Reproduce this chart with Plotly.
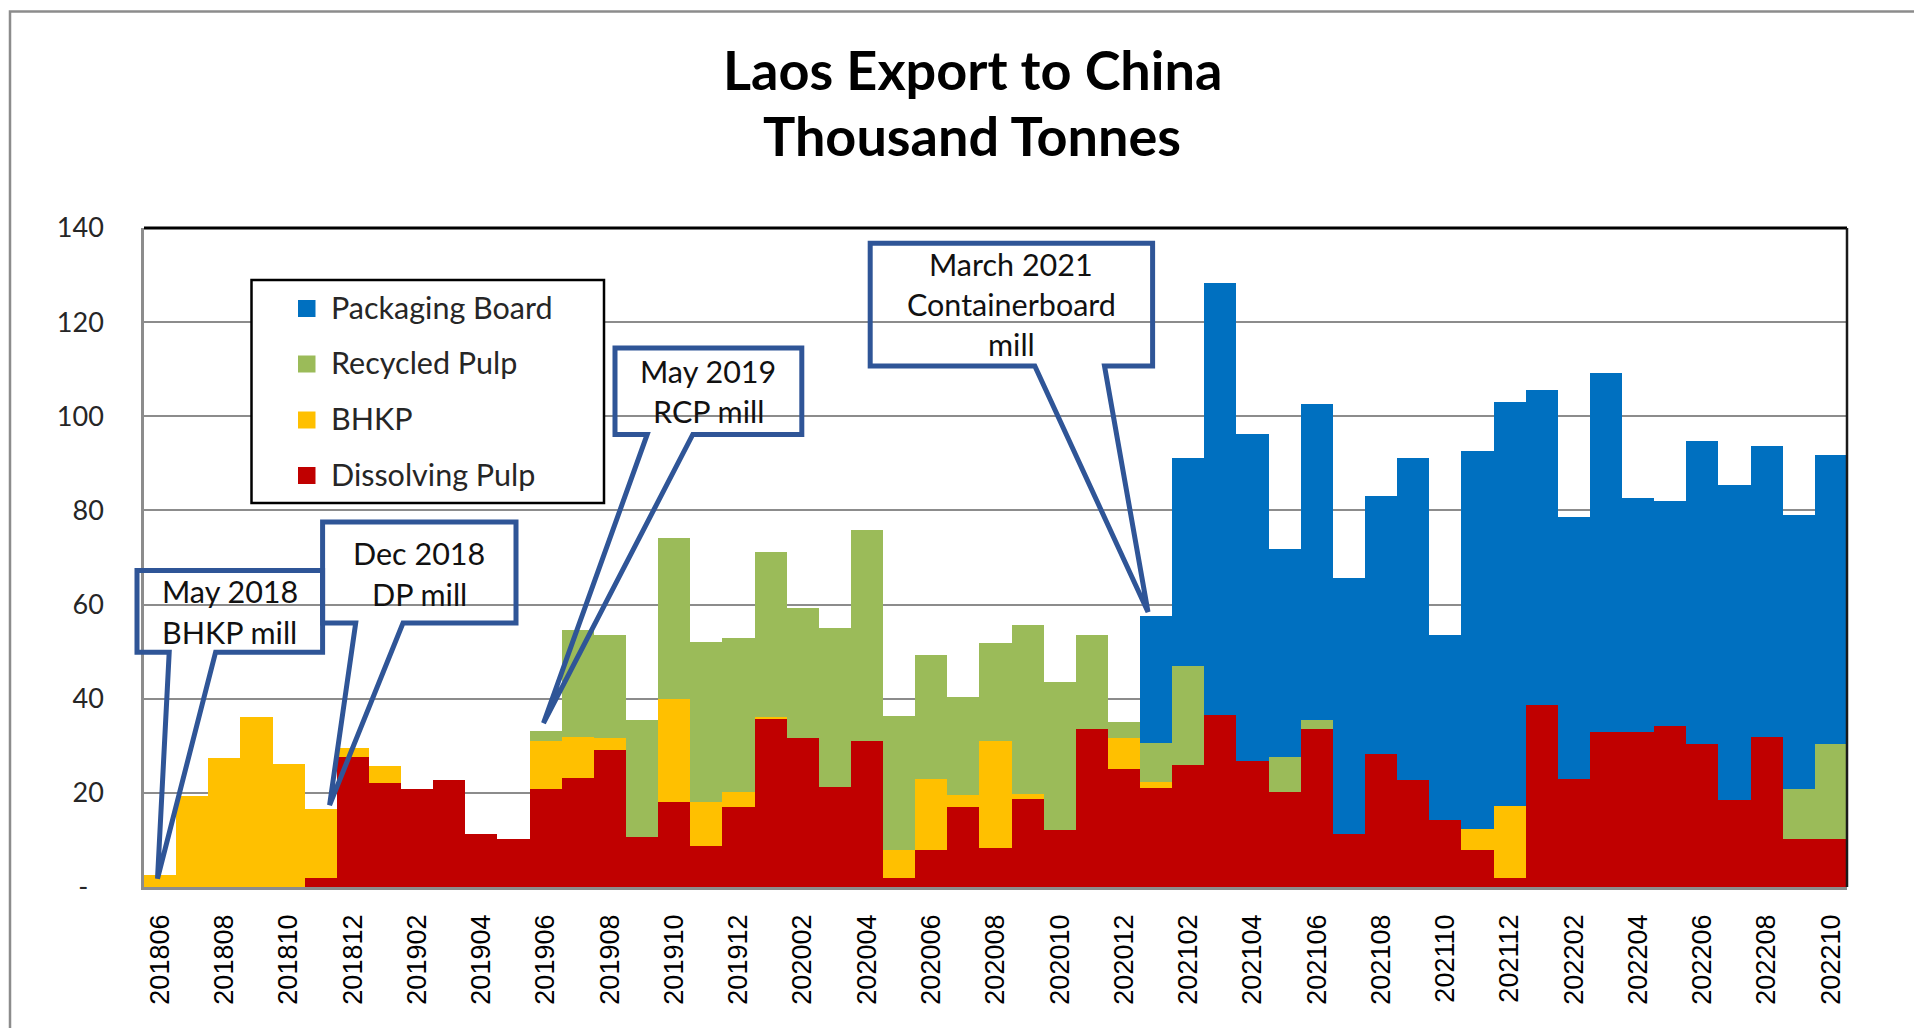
import plotly.graph_objects as go

# ---------------- data ----------------
months = ["201806", "201807", "201808", "201809", "201810", "201811", "201812",
          "201901", "201902", "201903", "201904", "201905", "201906", "201907", "201908",
          "201909", "201910", "201911", "201912",
          "202001", "202002", "202003", "202004", "202005", "202006", "202007", "202008",
          "202009", "202010", "202011", "202012",
          "202101", "202102", "202103", "202104", "202105", "202106", "202107", "202108",
          "202109", "202110", "202111", "202112",
          "202201", "202202", "202203", "202204", "202205", "202206", "202207", "202208",
          "202209", "202210"]

dissolving_pulp = [0, 0, 0, 0, 0, 1.9, 27.7,
                   22.2, 20.9, 22.7, 11.2, 10.1, 20.9, 23.1, 29.1, 10.6, 18.0, 8.7, 16.9,
                   35.7, 31.6, 21.2, 31.1, 1.9, 7.9, 16.9, 8.3, 18.7, 12.1, 33.6, 25.1,
                   21.1, 25.9, 36.5, 26.8, 20.2, 33.6, 11.2, 28.2, 22.7, 14.2, 7.8, 1.9,
                   38.7, 23.0, 32.9, 32.9, 34.3, 30.3, 18.5, 31.8, 10.2, 10.2]

bhkp = [2.6, 19.4, 27.5, 36.2, 26.2, 14.6, 1.9,
        3.6, 0, 0, 0, 0, 10.1, 8.7, 2.6, 0, 22.0, 9.3, 3.3,
        0.5, 0, 0, 0, 5.9, 15.0, 2.7, 22.8, 1.0, 0, 0, 6.5,
        1.2, 0, 0, 0, 0, 0, 0, 0, 0, 0, 4.5, 15.4,
        0, 0, 0, 0, 0, 0, 0, 0, 0, 0]

recycled_pulp = [0, 0, 0, 0, 0, 0, 0,
                 0, 0, 0, 0, 0, 2.2, 22.7, 21.9, 24.9, 34.2, 34.1, 32.6,
                 34.9, 27.6, 33.8, 44.7, 28.5, 26.4, 20.7, 20.7, 35.9, 31.5, 20.0, 3.5,
                 8.3, 21.0, 0, 0, 7.5, 1.8, 0, 0, 0, 0, 0, 0,
                 0, 0, 0, 0, 0, 0, 0, 0, 10.7, 20.1]

packaging_board = [0, 0, 0, 0, 0, 0, 0,
                   0, 0, 0, 0, 0, 0, 0, 0, 0, 0, 0, 0,
                   0, 0, 0, 0, 0, 0, 0, 0, 0, 0, 0, 0,
                   27.0, 44.3, 91.9, 69.4, 44.1, 67.3, 54.5, 54.9, 68.5, 39.4, 80.4, 85.8,
                   66.8, 55.7, 76.4, 49.8, 47.7, 64.5, 66.8, 61.8, 58.1, 61.5]

series_names = ["Dissolving Pulp", "BHKP", "Recycled Pulp", "Packaging Board"]
series_colors = ["#C00000", "#FFC000", "#9BBB59", "#0070C0"]
series_values = [dissolving_pulp, bhkp, recycled_pulp, packaging_board]

y_tickvals = [0, 20, 40, 60, 80, 100, 120, 140]
y_ticktext = ["-\u2007", "20", "40", "60", "80", "100", "120", "140"]

title_lines = ["Laos Export to China", "Thousand Tonnes"]
callouts = [
    ["May 2018", "BHKP mill"],
    ["Dec 2018", "DP mill"],
    ["May 2019", "RCP mill"],
    ["March 2021", "Containerboard", "mill"],
]

# ---------------- layout geometry (pixels) ----------------
FW, FH = 1914, 1028
L, R, T, B = 144, 1847, 228, 887
W, H = R - L, B - T


def px(x):
    return (x - L) / W


def py(y):
    return (B - y) / H


idx = list(range(len(months)))

fig = go.Figure()
for name, color, vals in zip(series_names, series_colors, series_values):
    fig.add_trace(go.Bar(
        x=idx, y=vals, name=name, width=1.0,
        marker=dict(color=color, line=dict(width=0)),
        showlegend=False,
    ))

shapes = []
# outer chart frame (cropped on right/bottom)
shapes.append(dict(type="rect", xref="paper", yref="paper",
                   x0=px(10), x1=px(1960), y0=py(1080), y1=py(11.5),
                   line=dict(color="#8C8C8C", width=2.5), fillcolor="rgba(0,0,0,0)",
                   layer="below"))
# plot-area border top and right (black)
shapes.append(dict(type="line", xref="paper", yref="paper", x0=0, x1=1, y0=1, y1=1,
                   line=dict(color="#000000", width=3), layer="above"))
shapes.append(dict(type="line", xref="paper", yref="paper", x0=1, x1=1, y0=0, y1=1,
                   line=dict(color="#1a1a1a", width=2.5), layer="above"))

# legend box
shapes.append(dict(type="rect", xref="paper", yref="paper",
                   x0=px(251.5), x1=px(604), y0=py(503), y1=py(280),
                   line=dict(color="#000000", width=2.5), fillcolor="#FFFFFF",
                   layer="above"))
legend_rows = [308.5, 364, 420, 475.5]
legend_order = [3, 2, 1, 0]
annotations = []
for row_y, si in zip(legend_rows, legend_order):
    shapes.append(dict(type="rect", xref="paper", yref="paper",
                       x0=px(298), x1=px(315.5), y0=py(row_y + 8.5), y1=py(row_y - 8.5),
                       line=dict(width=0), fillcolor=series_colors[si], layer="above"))
    annotations.append(dict(xref="paper", yref="paper", x=px(329), y=py(row_y - 2),
                            text=series_names[si], showarrow=False,
                            xanchor="left", yanchor="middle",
                            font=dict(family="Lato", size=30.5, color="#262626")))

# callouts: box (left, top, right, bottom), tail base xs, tip, text centre x, line ys
callout_geo = [
    dict(box=(137, 570.5, 322.6, 652.2), base=(169.2, 215.6), tip=(157.5, 878.6),
         cx=229.8, ys=[590.6, 631.7]),
    dict(box=(322.6, 522, 516, 623), base=(355.7, 403), tip=(329.6, 805),
         cx=419.3, ys=[552.7, 593.8]),
    dict(box=(615, 348, 801.8, 434.4), base=(647.2, 692.8), tip=(543.5, 723.2),
         cx=708.4, ys=[371, 411]),
    dict(box=(870.2, 243.3, 1152.6, 366), base=(1034.8, 1104.5), tip=(1148, 612),
         cx=1011.4, ys=[263.8, 304, 344]),
]
for geo, lines in zip(callout_geo, callouts):
    x0, y0, x1, y1 = geo["box"]
    bl, br = geo["base"]
    tx, ty = geo["tip"]
    pts = [(x0, y0), (x1, y0), (x1, y1), (br, y1), (tx, ty), (bl, y1), (x0, y1)]
    path = "M " + " L ".join(f"{px(a):.5f},{py(b):.5f}" for a, b in pts) + " Z"
    shapes.append(dict(type="path", xref="paper", yref="paper", path=path,
                       line=dict(color="#2F5597", width=5),
                       fillcolor="rgba(0,0,0,0)", layer="above"))
    for text, yy in zip(lines, geo["ys"]):
        annotations.append(dict(xref="paper", yref="paper", x=px(geo["cx"]), y=py(yy),
                                text=text, showarrow=False,
                                xanchor="center", yanchor="middle",
                                font=dict(family="Lato", size=30.5, color="#111111")))

# title
annotations.append(dict(xref="paper", yref="paper", x=px(972), y=py(69),
                        text=title_lines[0], showarrow=False, xanchor="center",
                        yanchor="middle",
                        font=dict(family="Lato", size=54, color="#000000", weight="bold")))
annotations.append(dict(xref="paper", yref="paper", x=px(972), y=py(136),
                        text=title_lines[1], showarrow=False, xanchor="center",
                        yanchor="middle",
                        font=dict(family="Lato", size=54, color="#000000", weight="bold")))

fig.update_layout(
    width=FW, height=FH,
    margin=dict(l=L, r=FW - R, t=T, b=FH - B, pad=0),
    paper_bgcolor="#FFFFFF", plot_bgcolor="#FFFFFF",
    barmode="stack", bargap=0,
    shapes=shapes, annotations=annotations,
    showlegend=False,
)
fig.update_xaxes(
    range=[-0.5, len(months) - 0.5],
    tickmode="array", tickvals=idx[::2], ticktext=months[::2],
    tickangle=-90, ticks="", ticklabelstandoff=14,
    tickfont=dict(family="Liberation Sans", size=27, color="#000000"),
    showgrid=False, zeroline=False,
    showline=True, linecolor="#8C8C8C", linewidth=2.5,
)
fig.update_yaxes(
    range=[0, 140],
    tickmode="array", tickvals=y_tickvals, ticktext=y_ticktext,
    ticks="", ticklabelstandoff=32,
    tickfont=dict(family="Lato", size=27, color="#262626"),
    showgrid=True, gridcolor="#8C8C8C", gridwidth=2,
    zeroline=False,
    showline=True, linecolor="#8C8C8C", linewidth=2.5,
)

fig.write_html("out.html", config={"displayModeBar": False},
               post_script="document.body.style.margin='0';")
